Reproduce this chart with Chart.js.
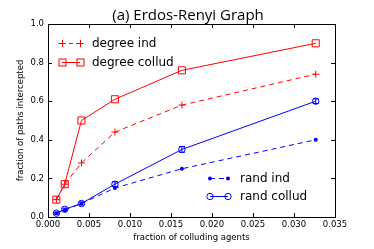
<!DOCTYPE html>
<html lang="en">
<head>
    <meta charset="UTF-8">
    <title>Erdos-Renyi Graph</title>
    <script src="https://cdn.jsdelivr.net/npm/chart.js"></script>
    <style>
        body { margin: 0; background: white; }
        #wrap { width: 374px; height: 249px; position: relative; }
    </style>
</head>
<body>
    <div id="wrap"><canvas id="chart" width="374" height="249"></canvas></div>
    <script>
        // data
        const agentFraction = [0.00102, 0.00204, 0.00408, 0.00816, 0.01633, 0.03265];
        const degreeInd = [0.09, 0.17, 0.28, 0.44, 0.58, 0.74];
        const degreeCollud = [0.09, 0.17, 0.50, 0.61, 0.76, 0.90];
        const randInd = [0.02, 0.035, 0.07, 0.15, 0.25, 0.40];
        const randCollud = [0.02, 0.04, 0.07, 0.17, 0.35, 0.60];
        const randColludErr = [0.005, 0.006, 0.008, 0.012, 0.015, 0.012];
        const xTicks = [0, 0.005, 0.01, 0.015, 0.02, 0.025, 0.03, 0.035];
        const yTicks = [0, 0.2, 0.4, 0.6, 0.8, 1.0];

        const RED = '#ff0000';
        const BLUE = '#0000ff';
        const pts = arr => arr.map((v, i) => ({ x: agentFraction[i], y: v }));

        // matplotlib-like frame, inward ticks, error bars, title and the two legends
        const decor = {
            id: 'decor',
            afterDatasetsDraw(chart) {
                const ctx = chart.ctx;
                const a = chart.chartArea;
                const xs = chart.scales.x, ys = chart.scales.y;
                ctx.save();

                // error bars for rand collud
                ctx.strokeStyle = BLUE;
                ctx.lineWidth = 1;
                randCollud.forEach((v, i) => {
                    const px = xs.getPixelForValue(agentFraction[i]);
                    const top = ys.getPixelForValue(v + randColludErr[i]);
                    const bot = ys.getPixelForValue(v - randColludErr[i]);
                    ctx.beginPath();
                    ctx.moveTo(px, top); ctx.lineTo(px, bot);
                    ctx.moveTo(px - 3, top); ctx.lineTo(px + 3, top);
                    ctx.moveTo(px - 3, bot); ctx.lineTo(px + 3, bot);
                    ctx.stroke();
                });

                // frame
                ctx.strokeStyle = '#000';
                ctx.lineWidth = 1;
                ctx.strokeRect(Math.round(a.left) + 0.5, Math.round(a.top) + 0.5,
                    Math.round(a.right - a.left), Math.round(a.bottom - a.top));

                // inward ticks
                ctx.beginPath();
                xTicks.forEach(t => {
                    const px = Math.round(xs.getPixelForValue(t)) + 0.5;
                    ctx.moveTo(px, a.bottom); ctx.lineTo(px, a.bottom - 4);
                    ctx.moveTo(px, a.top); ctx.lineTo(px, a.top + 4);
                });
                yTicks.forEach(t => {
                    const py = Math.round(ys.getPixelForValue(t)) + 0.5;
                    ctx.moveTo(a.left, py); ctx.lineTo(a.left + 4, py);
                    ctx.moveTo(a.right, py); ctx.lineTo(a.right - 4, py);
                });
                ctx.stroke();

                // title
                ctx.fillStyle = '#000';
                ctx.font = '15px "Open Sans", sans-serif';
                ctx.textAlign = 'center';
                ctx.textBaseline = 'alphabetic';
                ctx.fillText('(a) Erdos-Renyi Graph', 188, 20);

                // legends
                ctx.font = '12px "DejaVu Sans", sans-serif';
                ctx.textAlign = 'left';
                ctx.textBaseline = 'middle';
                const entry = (x, y, color, dash, marker, label) => {
                    ctx.strokeStyle = color;
                    ctx.fillStyle = color;
                    ctx.lineWidth = 1;
                    ctx.setLineDash(dash);
                    ctx.beginPath();
                    ctx.moveTo(x, y + 0.5); ctx.lineTo(x + 18, y + 0.5);
                    ctx.stroke();
                    ctx.setLineDash([]);
                    [x, x + 18].forEach(mx => {
                        ctx.beginPath();
                        if (marker === 'cross') {
                            ctx.moveTo(mx - 3.5, y + 0.5); ctx.lineTo(mx + 3.5, y + 0.5);
                            ctx.moveTo(mx + 0.5, y - 3); ctx.lineTo(mx + 0.5, y + 4);
                            ctx.stroke();
                        } else if (marker === 'rect') {
                            ctx.strokeRect(mx - 3, y - 3, 7, 7);
                        } else if (marker === 'dot') {
                            ctx.arc(mx, y + 0.5, 2, 0, Math.PI * 2);
                            ctx.fill();
                        } else {
                            ctx.arc(mx, y + 0.5, 3.2, 0, Math.PI * 2);
                            ctx.stroke();
                        }
                    });
                    ctx.fillStyle = '#000';
                    ctx.fillText(label, x + 30, y + 1);
                };
                entry(62, 43, RED, [4, 3], 'cross', 'degree ind');
                entry(62, 62, RED, [], 'rect', 'degree collud');
                entry(210, 178, BLUE, [5, 4], 'dot', 'rand ind');
                entry(210, 196, BLUE, [], 'circle', 'rand collud');

                ctx.restore();
            }
        };

        new Chart(document.getElementById('chart'), {
            type: 'scatter',
            data: {
                datasets: [
                    {
                        label: 'degree ind', data: pts(degreeInd), showLine: true,
                        borderColor: RED, backgroundColor: RED, borderWidth: 1, borderDash: [5, 4],
                        pointStyle: 'cross', pointRadius: 3.5, pointBorderWidth: 1
                    },
                    {
                        label: 'degree collud', data: pts(degreeCollud), showLine: true,
                        borderColor: RED, backgroundColor: 'rgba(0,0,0,0)', borderWidth: 1,
                        pointStyle: 'rect', pointRadius: 5, pointBorderWidth: 1
                    },
                    {
                        label: 'rand ind', data: pts(randInd), showLine: true,
                        borderColor: BLUE, backgroundColor: BLUE, borderWidth: 1, borderDash: [5, 4],
                        pointStyle: 'circle', pointRadius: 2, pointBorderWidth: 0
                    },
                    {
                        label: 'rand collud', data: pts(randCollud), showLine: true,
                        borderColor: BLUE, backgroundColor: 'rgba(0,0,0,0)', borderWidth: 1,
                        pointStyle: 'circle', pointRadius: 3.2, pointBorderWidth: 1
                    }
                ]
            },
            options: {
                responsive: false,
                animation: false,
                layout: { padding: { top: 24, right: 39, left: 16, bottom: 6 } },
                plugins: {
                    legend: { display: false },
                    tooltip: { enabled: false },
                    title: { display: false }
                },
                scales: {
                    x: {
                        type: 'linear', min: 0, max: 0.035,
                        afterBuildTicks: s => { s.ticks = xTicks.map(v => ({ value: v })); },
                        afterFit: s => { s.height = 26; },
                        grid: { display: false, drawTicks: false },
                        border: { display: false },
                        ticks: {
                            color: '#000', padding: 3,
                            font: { family: '"DejaVu Sans", sans-serif', size: 8.5 },
                            maxRotation: 0,
                            callback: v => v.toFixed(3)
                        },
                        title: {
                            display: true, text: 'fraction of colluding agents', color: '#000',
                            font: { family: '"DejaVu Sans", sans-serif', size: 8.5 }, padding: { top: 2, bottom: 0 }
                        }
                    },
                    y: {
                        type: 'linear', min: 0, max: 1,
                        afterBuildTicks: s => { s.ticks = yTicks.map(v => ({ value: v })); },
                        afterFit: s => { s.width = 32; },
                        grid: { display: false, drawTicks: false },
                        border: { display: false },
                        ticks: {
                            color: '#000', padding: 4,
                            font: { family: '"DejaVu Sans", sans-serif', size: 8.5 },
                            callback: v => v.toFixed(1)
                        },
                        title: {
                            display: true, text: 'fraction of paths intercepted', color: '#000',
                            font: { family: '"DejaVu Sans", sans-serif', size: 8.5 }, padding: { top: 0, bottom: 0 }
                        }
                    }
                }
            },
            plugins: [decor]
        });
    </script>
</body>
</html>
